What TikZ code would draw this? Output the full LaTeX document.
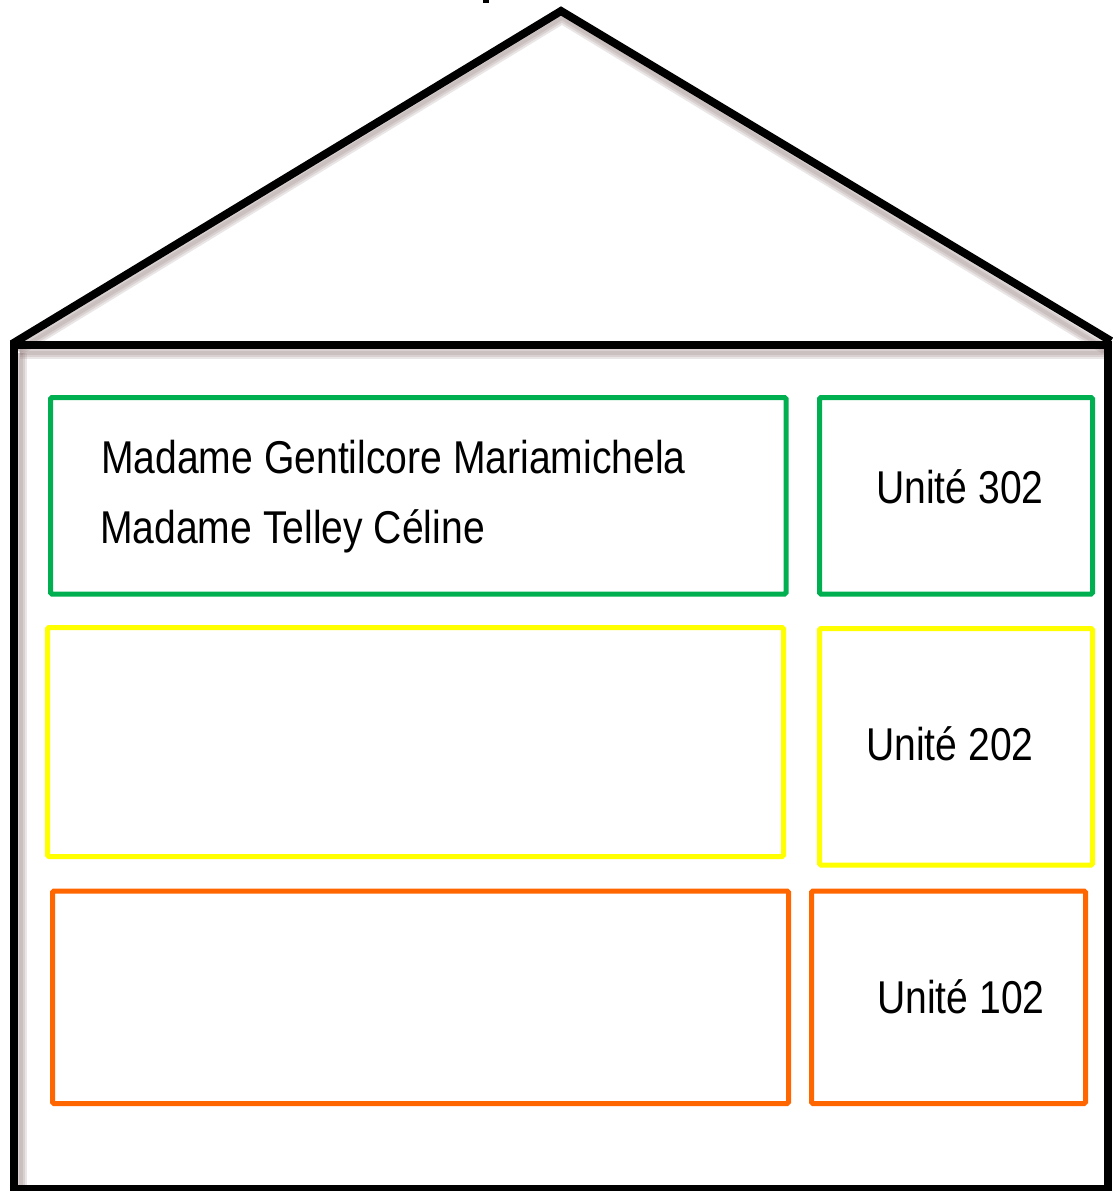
\documentclass[tikz,border=0pt]{standalone}
\usepackage{fontspec}
\newfontfamily\nf[FakeStretch=0.85]{Liberation Sans}
\definecolor{boxgreen}{RGB}{0,176,80}
\definecolor{boxyellow}{RGB}{255,255,0}
\definecolor{boxorange}{RGB}{255,102,0}
\definecolor{shadowc}{RGB}{140,115,115}
\tikzset{
  house/.style={line width=8pt, draw=black, line join=miter},
  shadow/.style={draw=shadowc, opacity=0.18},
  unitbox/.style={line width=5pt, rounded corners=1.5pt},
  lbl/.style={anchor=base west, inner sep=0pt, font=\nf\fontsize{46}{55}\selectfont}
}
\begin{document}
\begin{tikzpicture}[x=1pt,y=-1pt]
\useasboundingbox (0,0) rectangle (1112,1191);
% soft shadows
\foreach \w in {12,8,4}{
  \draw[shadow, line width=\w pt] (18,350) -- (562,18) -- (1106,349);
  \draw[shadow, line width=\w pt] (20,353) -- (1104,353);
  \draw[shadow, line width=\w pt] (21,353) -- (21,1185);
}
% roof
\coordinate (rl) at (12,344);
\coordinate (apex) at (561,11);
\coordinate (rr) at (1111,341);
\draw[house] (rl) -- (apex) -- (rr);
% walls
\coordinate (wtl) at (14,345);
\coordinate (wtr) at (1108,345);
\coordinate (wbl) at (14,1189);
\coordinate (wbr) at (1108,1189);
\draw[house] (wbl) -- (wtl) -- (wtr) -- (wbr) -- cycle;
% fragment at top
\fill (483,0) rectangle (489,3);
% boxes
\draw[unitbox, boxgreen] (50.5,397.5) rectangle (786,594);
\draw[unitbox, boxgreen] (819.5,397.5) rectangle (1092.5,594);
\draw[unitbox, boxyellow] (47.5,627.5) rectangle (783.5,856.5);
\draw[unitbox, boxyellow] (819.5,628.5) rectangle (1092.5,865);
\draw[unitbox, boxorange] (52.5,891) rectangle (788.5,1103.5);
\draw[unitbox, boxorange] (811.5,891) rectangle (1085.5,1103.5);
% labels
\node[lbl] (n1) at (101,473) {Madame Gentilcore Mariamichela};
\node[lbl] (n2) at (100,543) {Madame Telley Céline};
\node[lbl] (u3) at (876,503) {Unité 302};
\node[lbl] (u2) at (866,760) {Unité 202};
\node[lbl] (u1) at (877,1013) {Unité 102};
\end{tikzpicture}
\end{document}
